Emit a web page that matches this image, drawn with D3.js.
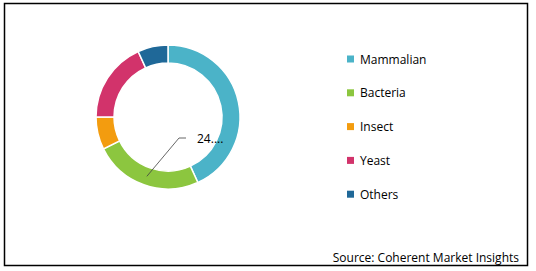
<!DOCTYPE html>
<html><head><meta charset="utf-8">
<script src="https://cdn.jsdelivr.net/npm/d3@7"></script>
<style>body{margin:0;background:#fff}svg{display:block}text{font-family:"Open Sans",Lato,sans-serif}</style>
</head><body><svg id="c" width="536" height="271"></svg>
<script>
const categories = ["Mammalian","Bacteria","Insect","Yeast","Others"];
const values = [43.2, 24.5, 7.3, 18.2, 6.8];
const colors = ["#4bb3c8","#8cc63f","#f39c0f","#d2336b","#1f6898"];
const labelText = "24....";

const svg = d3.select("#c");
svg.append("rect").attr("x",4.5).attr("y",3.5).attr("width",523).attr("height",262)
  .attr("fill","#fff").attr("stroke","#000").attr("stroke-width",1.5);

const cx=168, cy=117, R=72, r=54;
const pie = d3.pie().sort(null).value(d=>d);
const arcs = pie(values);
const arc = d3.arc().innerRadius(r).outerRadius(R);
const g = svg.append("g").attr("transform",`translate(${cx},${cy})`);
g.selectAll("path").data(arcs).join("path")
  .attr("d",arc).attr("fill",(d,i)=>colors[i]).attr("stroke","#fff").attr("stroke-width",1.5);

// leader line for Bacteria label
const b = arcs[1];
const mid = (b.startAngle+b.endAngle)/2;
const mr = (r+R)/2;
const p0 = [Math.sin(mid)*mr, -Math.cos(mid)*mr];
g.append("polyline")
  .attr("points",`${p0[0]},${p0[1]} ${11},${21} ${18},${21}`)
  .attr("fill","none").attr("stroke","#404040").attr("stroke-width",0.8);
g.append("text").attr("x",29).attr("y",25.5).attr("font-size",12).attr("fill","#000").text(labelText);

// legend
const lg = svg.append("g");
categories.forEach((c,i)=>{
  const y = 59 + i*33.8;
  lg.append("rect").attr("x",347).attr("y",y-3.5).attr("width",7).attr("height",7).attr("fill",colors[i]);
  lg.append("text").attr("x",360).attr("y",y+4.5).attr("font-size",12).attr("fill","#000").text(c);
});

svg.append("text").attr("x",519).attr("y",262).attr("text-anchor","end")
  .attr("font-size",12).attr("fill","#000").text("Source: Coherent Market Insights");
</script></body></html>
